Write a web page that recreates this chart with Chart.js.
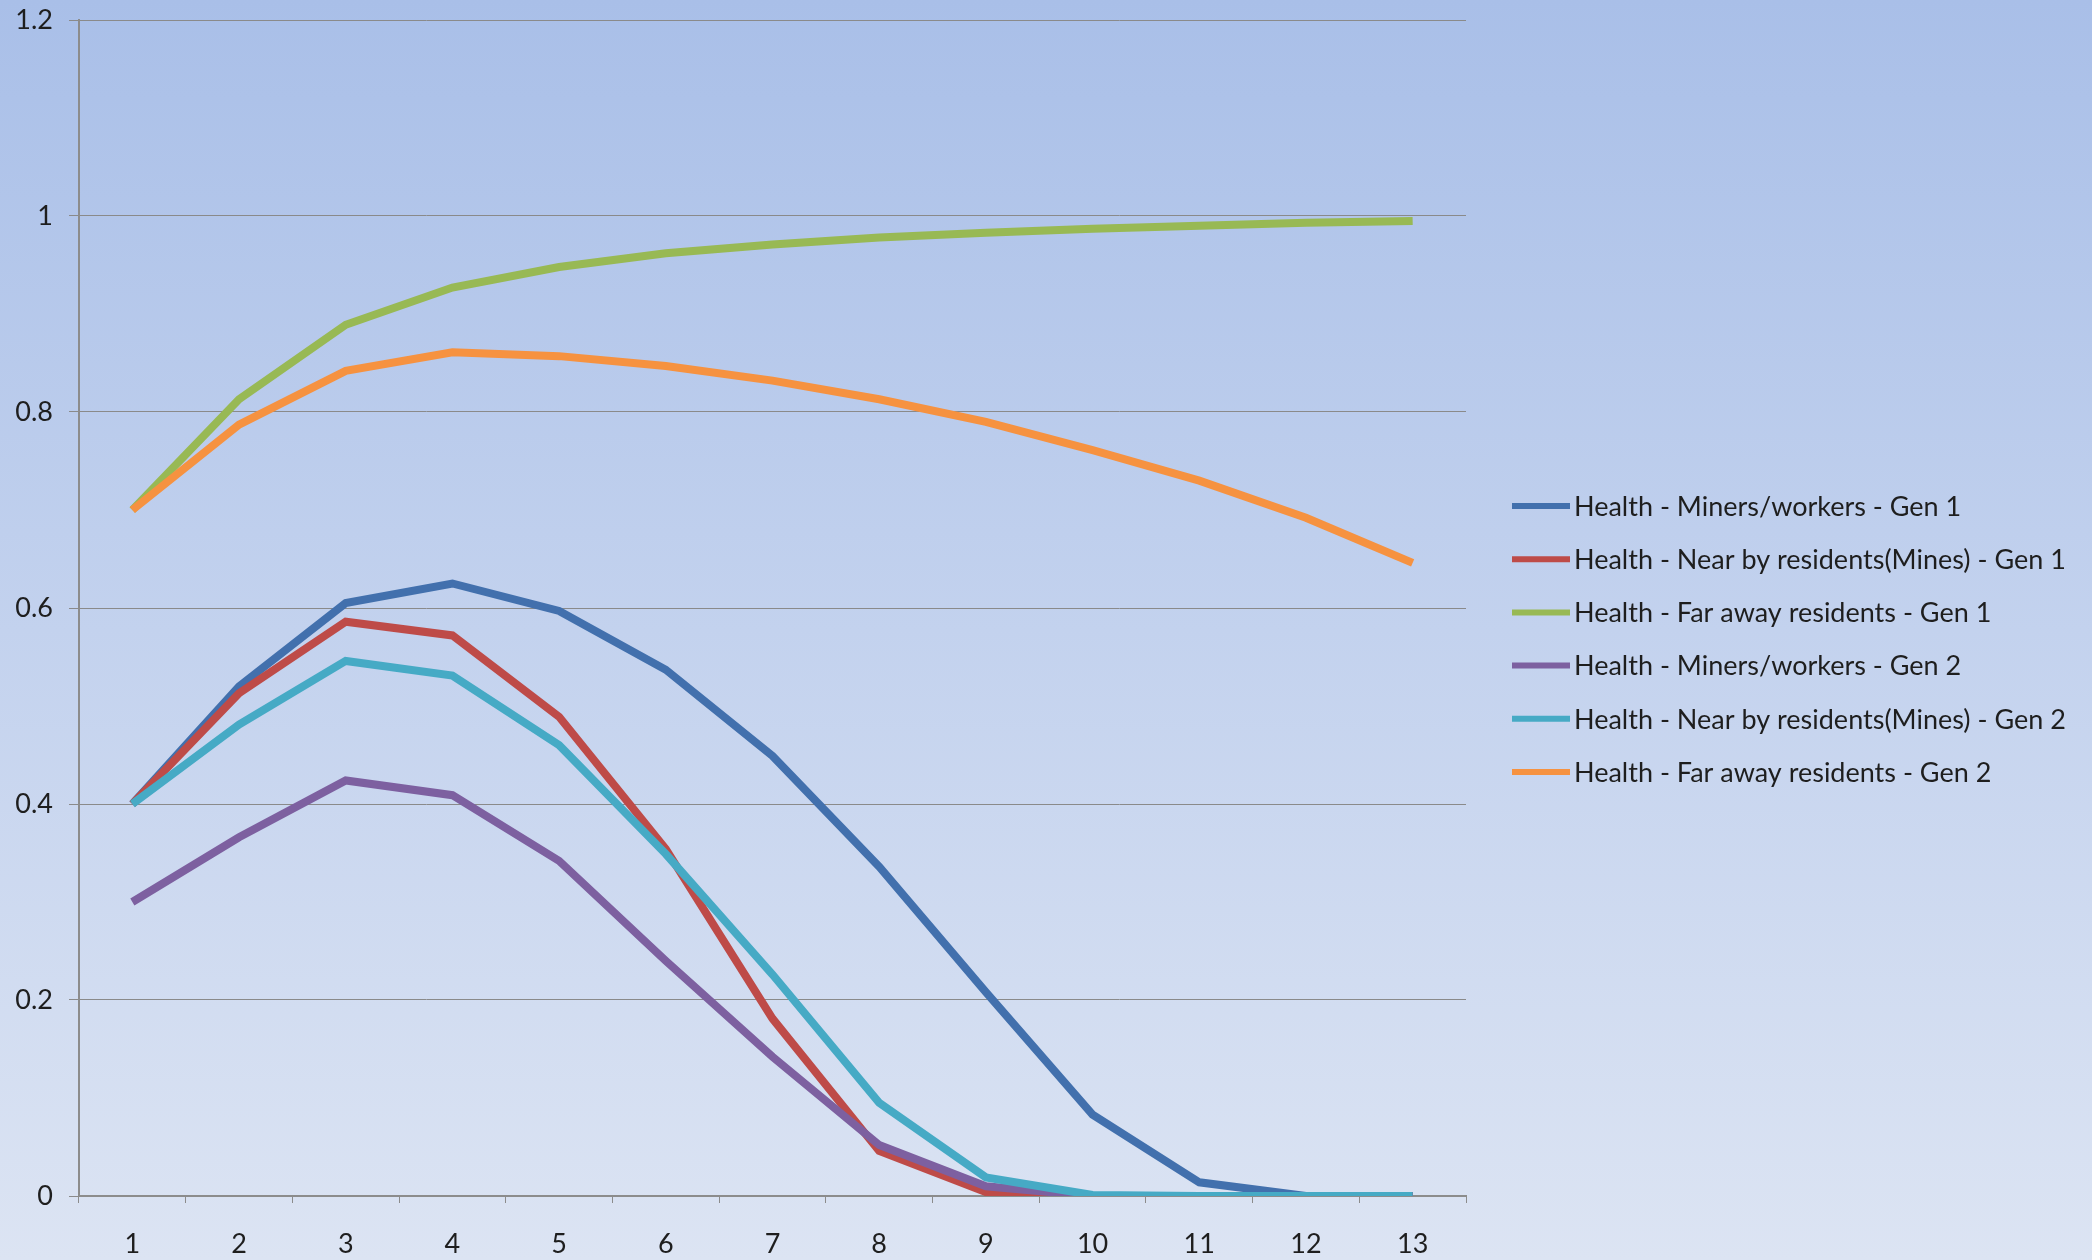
<!DOCTYPE html>
<html>
<head>
<meta charset="utf-8">
<script src="https://cdn.jsdelivr.net/npm/chart.js@4/dist/chart.umd.min.js"></script>
<style>
  html, body { margin: 0; padding: 0; }
  body {
    width: 2092px; height: 1260px; overflow: hidden;
    background: linear-gradient(to bottom, #a9bfe8 0%, #c3d2ee 50%, #dce4f3 100%);
  }
  #wrap { position: relative; width: 2092px; height: 1260px; }
</style>
</head>
<body>
<div id="wrap"><canvas id="chart" width="2092" height="1260"></canvas></div>
<script>
// Generation step (x axis categories)
const categories = ['1','2','3','4','5','6','7','8','9','10','11','12','13'];

// Y axis tick values
const yTicks = [0, 0.2, 0.4, 0.6, 0.8, 1, 1.2];

// Health index per series
const minersGen1   = [0.40, 0.520, 0.605, 0.625, 0.597, 0.537, 0.449, 0.336, 0.208, 0.083, 0.014, 0.000, 0.000];
const nearGen1     = [0.40, 0.513, 0.586, 0.572, 0.489, 0.354, 0.181, 0.046, 0.004, 0.000, 0.000, 0.000, 0.000];
const farGen1      = [0.70, 0.813, 0.889, 0.927, 0.948, 0.962, 0.971, 0.978, 0.983, 0.987, 0.990, 0.993, 0.995];
const minersGen2   = [0.30, 0.366, 0.424, 0.409, 0.342, 0.240, 0.142, 0.052, 0.010, 0.000, 0.000, 0.000, 0.000];
const nearGen2     = [0.40, 0.481, 0.546, 0.531, 0.460, 0.349, 0.226, 0.095, 0.019, 0.001, 0.000, 0.000, 0.000];
const farGen2      = [0.70, 0.787, 0.842, 0.861, 0.857, 0.847, 0.832, 0.813, 0.790, 0.761, 0.730, 0.692, 0.646];

const seriesNames = [
  'Health - Miners/workers - Gen 1',
  'Health - Near by residents(Mines) - Gen 1',
  'Health - Far away residents - Gen 1',
  'Health - Miners/workers - Gen 2',
  'Health - Near by residents(Mines) - Gen 2',
  'Health - Far away residents - Gen 2'
];
const seriesValues = [minersGen1, nearGen1, farGen1, minersGen2, nearGen2, farGen2];
const seriesColors = ['#4270ad', '#be4b48', '#98b954', '#7d60a0', '#46aac5', '#f69240'];

const FONT = 'Lato, "Noto Sans", sans-serif';
const TEXT = '#1e1e1e';
const FONT_SIZE = 27;

// later series paint over earlier ones
const datasets = seriesValues.map((vals, i) => ({
  label: seriesNames[i],
  data: vals,
  borderColor: seriesColors[i],
  backgroundColor: seriesColors[i],
  borderWidth: 8,
  pointRadius: 0,
  tension: 0,
  fill: false,
  order: seriesValues.length - i
}));

// Legend drawn to the right of the plot
const sideLegend = {
  id: 'sideLegend',
  afterDraw(chart) {
    const ctx = chart.ctx;
    ctx.save();
    ctx.font = FONT_SIZE + 'px ' + FONT;
    ctx.textBaseline = 'middle';
    ctx.textAlign = 'left';
    const x0 = 1512, lineLen = 58, y0 = 506, step = 53.2;
    chart.data.datasets.forEach((ds, i) => {
      const y = y0 + i * step;
      ctx.strokeStyle = ds.borderColor;
      ctx.lineWidth = 6;
      ctx.lineCap = 'butt';
      ctx.beginPath();
      ctx.moveTo(x0, y);
      ctx.lineTo(x0 + lineLen, y);
      ctx.stroke();
      ctx.fillStyle = TEXT;
      ctx.fillText(ds.label, x0 + lineLen + 4, y + 1);
    });
    ctx.restore();
  }
};

new Chart(document.getElementById('chart'), {
  type: 'line',
  data: { labels: categories, datasets },
  plugins: [sideLegend],
  options: {
    responsive: false,
    animation: false,
    layout: { padding: { top: 20, right: 626, bottom: 0, left: 0 } },
    plugins: { legend: { display: false }, tooltip: { enabled: false } },
    scales: {
      x: {
        type: 'category',
        offset: true,
        grid: {
          offset: true,
          drawOnChartArea: false,
          drawTicks: true,
          tickLength: 7,
          color: '#8c8c8c',
          lineWidth: 1
        },
        border: { display: true, color: '#8c8c8c', width: 2 },
        ticks: {
          color: TEXT,
          font: { family: FONT, size: FONT_SIZE },
          padding: 25,
          maxRotation: 0,
          autoSkip: false
        },
        afterFit(scale) {
          scale.height = 64;
          scale.paddingLeft = 0;
          scale.paddingRight = 0;
        }
      },
      y: {
        min: yTicks[0],
        max: yTicks[yTicks.length - 1],
        afterBuildTicks(scale) { scale.ticks = yTicks.map(v => ({ value: v })); },
        grid: {
          color: '#8a8a8a',
          lineWidth: 1,
          drawTicks: true,
          tickLength: 10
        },
        border: { display: true, color: '#8c8c8c', width: 2 },
        ticks: {
          color: TEXT,
          font: { family: FONT, size: FONT_SIZE },
          padding: 16,
          callback: v => String(+Number(v).toFixed(1))
        },
        afterFit(scale) {
          scale.width = 79;
          scale.paddingTop = 0;
          scale.paddingBottom = 0;
        }
      }
    }
  }
});
</script>
</body>
</html>
